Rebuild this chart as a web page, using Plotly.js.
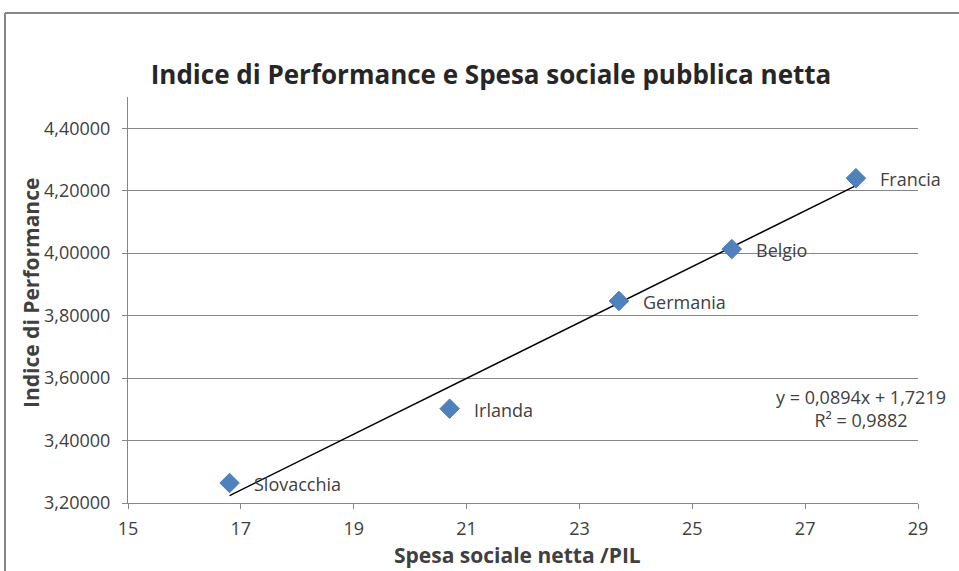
<!DOCTYPE html>
<html>
<head>
<meta charset="utf-8">
<script src="https://cdn.plot.ly/plotly-3.0.1.min.js"></script>
<style>
html,body{margin:0;padding:0;background:#fff;}
#chart{width:959px;height:571px;}
</style>
</head>
<body>
<div id="chart"></div>
<script>
const countries = ["Slovacchia", "Irlanda", "Germania", "Belgio", "Francia"];
const spesaSociale = [16.8, 20.7, 23.7, 25.7, 27.9];
const indicePerformance = [3.264, 3.502, 3.847, 4.013, 4.240];
const trendSlope = 0.0894;
const trendIntercept = 1.7219;
const trendR2 = 0.9882;
const yTicks = [3.2, 3.4, 3.6, 3.8, 4.0, 4.2, 4.4];
const xTicks = [15, 17, 19, 21, 23, 25, 27, 29];

const fontFam = "Open Sans, sans-serif";
const textCol = "#404040";
const gray = "#868686";

const xMin = Math.min(...spesaSociale), xMax = Math.max(...spesaSociale);
const trendX = [xMin, xMax];
const trendY = trendX.map(v => trendSlope * v + trendIntercept);

const fmt = v => v.toFixed(4).replace('.', ',');

const data = [
  {
    type: 'scatter', mode: 'lines', x: trendX, y: trendY,
    line: {color: '#000000', width: 1.5}, hoverinfo: 'skip', showlegend: false
  },
  {
    type: 'scatter', mode: 'markers', x: spesaSociale, y: indicePerformance,
    marker: {symbol: 'diamond', size: 15, color: '#4F81BD', line: {color: '#4A7EBB', width: 1}},
    showlegend: false
  }
];

const L = 128, R = 41, T = 97, B = 68, W = 959, H = 571;
const pw = W - L - R, ph = H - T - B;
const px = p => (p - L) / pw;
const py = p => (H - B - p) / ph;

const annotations = countries.map((c, i) => ({
  x: spesaSociale[i], y: indicePerformance[i], xref: 'x', yref: 'y',
  text: c, showarrow: false, xanchor: 'left', yanchor: 'middle', xshift: 22, yshift: -1,
  font: {family: fontFam, size: 18, color: textCol}
}));
annotations.push({
  xref: 'paper', yref: 'paper', x: px(861), y: py(408),
  text: 'y = ' + fmt(trendSlope) + 'x + ' + fmt(trendIntercept) + '<br>R² = ' + fmt(trendR2),
  showarrow: false, xanchor: 'center', yanchor: 'middle', align: 'center',
  font: {family: fontFam, size: 18, color: textCol}
});
annotations.push({
  xref: 'paper', yref: 'paper', x: px(517), y: py(555),
  text: '<b>Spesa sociale netta /PIL</b>', showarrow: false,
  xanchor: 'center', yanchor: 'middle',
  font: {family: fontFam, size: 21, color: textCol}
});
annotations.push({
  xref: 'paper', yref: 'paper', x: px(31), y: py(293),
  text: '<b>Indice di Performance</b>', showarrow: false, textangle: -90,
  xanchor: 'center', yanchor: 'middle',
  font: {family: fontFam, size: 21, color: textCol}
});

const layout = {
  width: W, height: H,
  margin: {l: L, r: R, t: T, b: B},
  paper_bgcolor: '#ffffff', plot_bgcolor: '#ffffff',
  separators: ',.',
  title: {
    text: '<b>Indice di Performance e Spesa sociale pubblica netta</b>',
    font: {family: fontFam, size: 26, color: '#262626'},
    x: px(491), xanchor: 'center', xref: 'paper', y: 1 - 75 / H, yanchor: 'middle'
  },
  xaxis: {
    range: [15, 29], tickvals: xTicks, ticktext: xTicks.map(String),
    showgrid: false, zeroline: false, showline: true, linecolor: gray, linewidth: 1,
    ticks: 'outside', ticklen: 5, tickcolor: gray, ticklabelstandoff: 4,
    tickfont: {family: fontFam, size: 18, color: textCol}
  },
  yaxis: {
    range: [3.2, 4.5], tickvals: yTicks, ticktext: yTicks.map(v => v.toFixed(5).replace('.', ',')),
    showgrid: true, gridcolor: gray, gridwidth: 1, zeroline: false,
    showline: true, linecolor: gray, linewidth: 1,
    ticks: 'outside', ticklen: 5, tickcolor: gray, ticklabelstandoff: 8,
    tickfont: {family: fontFam, size: 18, color: textCol}
  },
  annotations: annotations,
  shapes: [
    {type: 'line', xref: 'paper', yref: 'paper', x0: px(5), x1: px(962), y0: py(13), y1: py(13), line: {color: gray, width: 2}},
    {type: 'line', xref: 'paper', yref: 'paper', x0: px(5), x1: px(5), y0: py(13), y1: py(575), line: {color: gray, width: 2}}
  ]
};

Plotly.newPlot('chart', data, layout, {displayModeBar: false, staticPlot: true});
</script>
</body>
</html>
